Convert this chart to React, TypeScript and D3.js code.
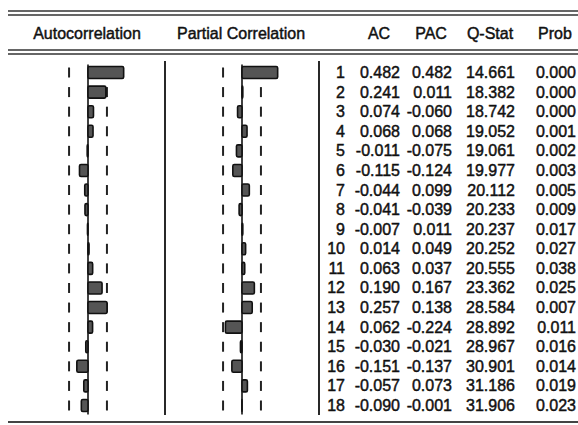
import React from "react";
import * as d3 from "d3";

const lags = [1, 2, 3, 4, 5, 6, 7, 8, 9, 10, 11, 12, 13, 14, 15, 16, 17, 18];
const acValues = [0.482, 0.241, 0.074, 0.068, -0.011, -0.115, -0.044, -0.041, -0.007, 0.014, 0.063, 0.19, 0.257, 0.062, -0.03, -0.151, -0.057, -0.09];
const pacValues = [0.482, 0.011, -0.06, 0.068, -0.075, -0.124, 0.099, -0.039, 0.011, 0.049, 0.037, 0.167, 0.138, -0.224, -0.021, -0.137, 0.073, -0.001];
const qStats = [14.661, 18.382, 18.742, 19.052, 19.061, 19.977, 20.112, 20.233, 20.237, 20.252, 20.555, 23.362, 28.584, 28.892, 28.967, 30.901, 31.186, 31.906];
const probs = [0.0, 0.0, 0.0, 0.001, 0.002, 0.003, 0.005, 0.009, 0.017, 0.027, 0.038, 0.025, 0.007, 0.011, 0.016, 0.014, 0.019, 0.023];
const confBound = 0.256;

const W = 578;
const H = 425;
const font = "'Liberation Sans', Arial, sans-serif";

const y = d3.scaleLinear().domain([1, 18]).range([72.5, 405.5]);
const acX = d3.scaleLinear().domain([-1, 1]).range([88 - 74, 88 + 74]);
const pacX = d3.scaleLinear().domain([-1, 1]).range([242 - 74, 242 + 74]);

const fmt = (v: number) => {
  const s = d3.format(".3f")(Math.abs(v));
  return v < 0 ? "-" + s : s;
};

function Panel({ values, x }: { values: number[]; x: d3.ScaleLinear<number, number> }) {
  const barH = 12;
  return (
    <g>
      {lags.map((lag) => (
        <g key={lag}>
          <line x1={x(-confBound)} x2={x(-confBound)} y1={y(lag) - 5} y2={y(lag) + 5} stroke="#222" strokeWidth={2} />
          <line x1={x(confBound)} x2={x(confBound)} y1={y(lag) - 5} y2={y(lag) + 5} stroke="#222" strokeWidth={2} />
        </g>
      ))}
      <line x1={x(0)} x2={x(0)} y1={y(1) - 8} y2={y(18) + 9} stroke="#111" strokeWidth={1.6} />
      {values.map((v, i) => (
        <rect
          key={i}
          x={Math.min(x(0), x(v))}
          y={y(lags[i]) - barH / 2}
          width={Math.abs(x(v) - x(0))}
          height={barH}
          rx={1.5}
          fill="#555"
          stroke="#111"
          strokeWidth={1.6}
        />
      ))}
    </g>
  );
}

export default function App() {
  const cols = [
    { data: acValues.map(fmt), right: 400 },
    { data: pacValues.map(fmt), right: 452 },
    { data: qStats.map((v) => d3.format(".3f")(v)), right: 515 },
    { data: probs.map((v) => d3.format(".3f")(v)), right: 576 },
  ];
  const headers = [
    { t: "Autocorrelation", x: 87 },
    { t: "Partial Correlation", x: 241 },
    { t: "AC", x: 379 },
    { t: "PAC", x: 431 },
    { t: "Q-Stat", x: 490 },
    { t: "Prob", x: 555 },
  ];
  const textStyle = { fill: "#111", stroke: "#111", strokeWidth: 0.45 };
  return (
    <svg width={W} height={H} style={{ position: "absolute", left: 0, top: 0 }} fontFamily={font}>
      <rect width={W} height={H} fill="#fff" />
      <line x1={8} x2={W} y1={11} y2={11} stroke="#333" strokeWidth={1.6} />
      <line x1={8} x2={W} y1={15} y2={15} stroke="#333" strokeWidth={1.6} />
      {headers.map((h) => (
        <text key={h.t} x={h.x} y={39} textAnchor="middle" fontSize={16} {...textStyle}>
          {h.t}
        </text>
      ))}
      <line x1={8} x2={W} y1={50} y2={50} stroke="#333" strokeWidth={1.6} />
      <line x1={8} x2={W} y1={54} y2={54} stroke="#333" strokeWidth={1.6} />

      <Panel values={acValues} x={acX} />
      <Panel values={pacValues} x={pacX} />

      <line x1={165} x2={165} y1={61} y2={415} stroke="#111" strokeWidth={1.8} />
      <line x1={319} x2={319} y1={61} y2={415} stroke="#111" strokeWidth={1.8} />

      {lags.map((lag, i) => (
        <g key={lag} fontSize={16} textAnchor="end" {...textStyle}>
          <text x={345} y={y(lag) + 5.5}>{lag}</text>
          {cols.map((c, j) => (
            <text key={j} x={c.right} y={y(lag) + 5.5}>
              {c.data[i]}
            </text>
          ))}
        </g>
      ))}
      <line x1={8} x2={W} y1={422} y2={422} stroke="#444" strokeWidth={2.2} />
    </svg>
  );
}
